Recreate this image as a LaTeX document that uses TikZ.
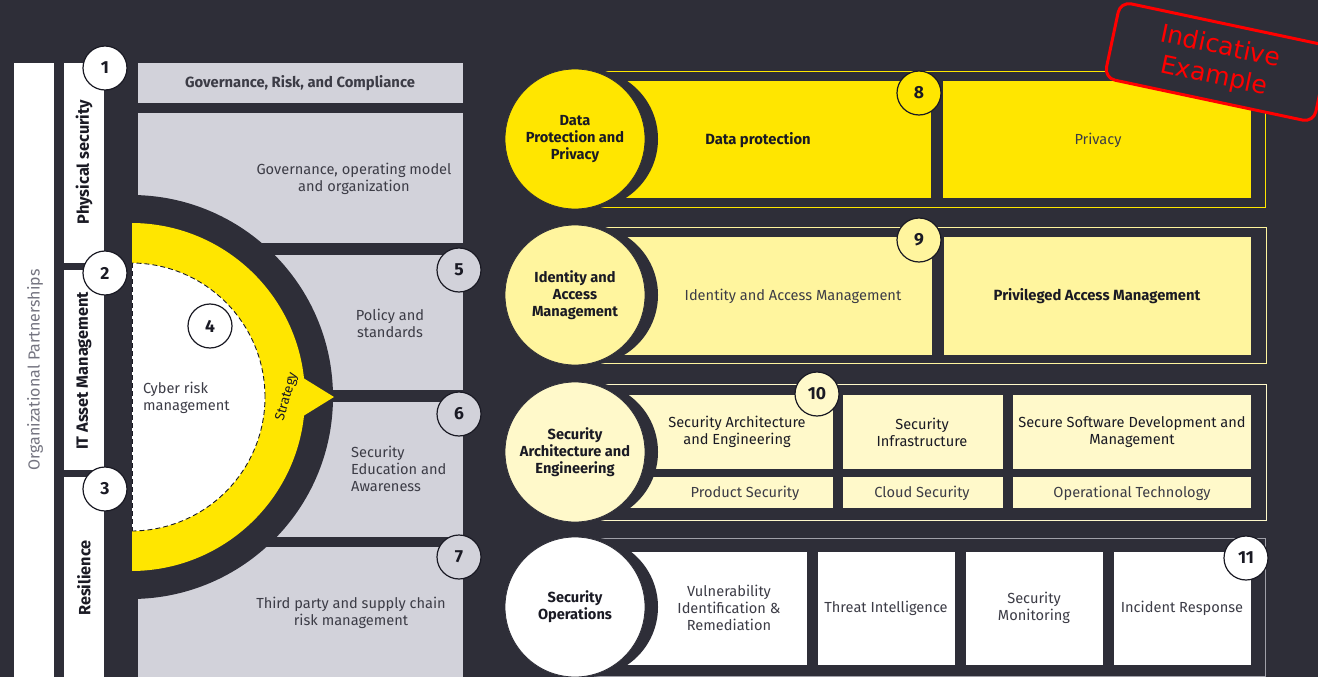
\documentclass[tikz,border=0pt]{standalone}
\usepackage{fontspec}
\setmainfont{Fira Sans}
\newfontfamily\stampfont{DejaVu Sans}
\definecolor{bg}{HTML}{2E2E38}
\definecolor{ink}{HTML}{1A1A24}
\definecolor{txt}{HTML}{3C3C46}
\definecolor{soft}{HTML}{747480}
\definecolor{panel}{HTML}{D2D2DA}
\definecolor{eyyellow}{HTML}{FFE600}
\definecolor{lightyellow}{HTML}{FFF59E}
\definecolor{paleyellow}{HTML}{FFF9CA}
\definecolor{framegray}{HTML}{A0A0A8}
\newcommand\fs[2]{\fontsize{#1}{#2}\selectfont}
\newcommand\bx[6]{\node[#6, inner sep=0pt, outer sep=0pt, minimum width={(#4-#2)*1pt}, minimum height={(#5-#3)*1pt}, anchor=north west] (#1) at (#2,#3) {};}
\tikzset{
  panelbox/.style={fill=panel},
  stripbox/.style={fill=white},
  num/.style={circle, draw=ink, line width=1.2pt, fill=white, minimum size=44pt, inner sep=0pt, font=\bfseries\fs{17.5}{20}, text=ink},
  big/.style={circle, minimum size=140pt, inner sep=0pt, align=center, font=\bfseries\fs{14.6}{17}, text=ink, draw=bg, line width=0.8pt},
  shade/.style={circle, fill=bg, minimum size=140pt, inner sep=0pt},
  lbl/.style={align=center, font=\fs{14.6}{17}, text=txt, inner sep=0pt},
  lblb/.style={align=center, font=\bfseries\fs{14.8}{17}, text=ink, inner sep=0pt},
  side/.style={rotate=90, font=\bfseries\fs{16.3}{19}, text=ink, inner sep=0pt},
}
\begin{document}
\begin{tikzpicture}[x=1pt,y=-1pt]
\clip (0,0) rectangle (1318,677);
\fill[bg] (0,0) rectangle (1318,677);

% left strips
\bx{org}{14}{63}{54}{677}{stripbox}
\bx{phys}{64}{63}{104}{263}{stripbox}
\bx{itam}{64}{270}{104}{470}{stripbox}
\bx{resi}{64}{477}{104}{677}{stripbox}
\node[rotate=90, font=\fs{16}{19}, text=soft, inner sep=0pt] (orgt) at (35,370) {Organizational Partnerships};
\node[side] (physt) at (84,162) {Physical security};
\node[side] (itamt) at (84,371) {IT Asset Management};
\node[side] (resit) at (84,578) {Resilience};

% grey panels
\bx{grc}{138}{63}{463}{103}{panelbox}
\bx{gov}{138}{113}{463}{243}{panelbox}
\bx{pol}{138}{255}{463}{390}{panelbox}
\bx{edu}{138}{402}{463}{537}{panelbox}
\bx{tpr}{138}{547}{463}{677}{panelbox}

% semicircle
\begin{scope}
\clip (132,150) rectangle (400,640);
\fill[bg] (131,397) circle[radius=202pt];
\fill[eyyellow] (131,397) circle[radius=174pt];
\fill[white] (131,397) circle[radius=134pt];
\draw[ink, line width=0.9pt, dash pattern=on 5pt off 3pt] (131,397) circle[radius=134pt];
\end{scope}
\fill[eyyellow] (300,376) -- (334,397) -- (300,418) -- cycle;
\draw[ink, line width=0.9pt, dash pattern=on 5pt off 3pt] (132,263) -- (132,531);
\node[align=left, anchor=west, font=\fs{14.6}{17}, text=txt, inner sep=0pt] (crm) at (143,398) {Cyber risk\\management};
\node[rotate=74, font=\fs{13.5}{15}, text=ink, inner sep=0pt] (strat) at (287,397) {Strategy};

% panel texts
\node[lblb, text=txt] (grct) at (300,83) {Governance, Risk, and Compliance};
\node[lbl] (govt) at (354,179) {Governance, operating model\\and organization};
\node[lbl] (polt) at (390,323) {Policy and\\standards};
\node[lbl, align=left, anchor=west] (edut) at (351,469) {Security\\Education and\\Awareness};
\node[lbl] (tprt) at (351,613) {Third party and supply chain\\risk management};

% numbered circles left
\node[num] (n1) at (105,68) {1};
\node[num] (n2) at (105,273) {2};
\node[num] (n3) at (105,489) {3};
\node[num] (n4) at (210,326) {4};
\node[num, fill=panel] (n5) at (459,270) {5};
\node[num, fill=panel] (n6) at (459,414) {6};
\node[num, fill=panel] (n7) at (459,557) {7};

% row 1 Data protection
\draw[eyyellow, line width=1pt, fill=bg] (590,72) rectangle (1265,207);
\bx{dp}{590}{81}{931}{198}{fill=eyyellow}
\bx{priv}{943}{81}{1251}{198}{fill=eyyellow}
\node[lblb] (dpt) at (758,140) {Data protection};
\node[lbl] (privt) at (1098,140) {Privacy};
\node[shade] (s1) at (588,139) {};
\node[big, fill=eyyellow] (c1) at (575,139) {Data\\Protection and\\Privacy};
\node[num, fill=eyyellow] (n8) at (919,93) {8};

% row 2 IAM
\draw[lightyellow, line width=1pt, fill=bg] (590,227) rectangle (1266,363);
\bx{iam}{590}{237}{932}{355}{fill=lightyellow}
\bx{pam}{944}{237}{1251}{355}{fill=lightyellow}
\node[lbl] (iamt) at (793,296) {Identity and Access Management};
\node[lblb] (pamt) at (1097,296) {Privileged Access Management};
\node[shade] (s2) at (588,295) {};
\node[big, fill=lightyellow] (c2) at (575,295) {Identity and\\Access\\Management};
\node[num, fill=lightyellow] (n9) at (919,240) {9};

% row 3 SAE
\draw[paleyellow, line width=1pt, fill=bg] (590,384) rectangle (1266,520);
\bx{sae}{600}{395}{833}{469}{fill=paleyellow}
\bx{sinf}{843}{395}{1003}{469}{fill=paleyellow}
\bx{ssd}{1013}{395}{1251}{469}{fill=paleyellow}
\bx{prod}{600}{477}{833}{508}{fill=paleyellow}
\bx{cloud}{843}{477}{1003}{508}{fill=paleyellow}
\bx{ot}{1013}{477}{1251}{508}{fill=paleyellow}
\node[lbl, text=ink] (saet) at (737,432) {Security Architecture\\and Engineering};
\node[lbl, text=ink] (sinft) at (922,432) {Security\\Infrastructure};
\node[lbl, text=ink] (ssdt) at (1132,432) {Secure Software Development and\\Management};
\node[lbl] (prodt) at (745,493) {Product Security};
\node[lbl] (cloudt) at (922,493) {Cloud Security};
\node[lbl] (ott) at (1132,493) {Operational Technology};
\node[shade] (s3) at (588,452) {};
\node[big, fill=paleyellow] (c3) at (575,452) {Security\\Architecture and\\Engineering};
\node[num, fill=paleyellow] (n10) at (817,394) {10};

% row 4 SecOps
\draw[framegray, line width=1pt, fill=bg] (590,538) rectangle (1265,676);
\bx{vim}{600}{552}{807}{665}{fill=white}
\bx{ti}{818}{552}{955}{665}{fill=white}
\bx{sm}{966}{552}{1103}{665}{fill=white}
\bx{ir}{1114}{552}{1251}{665}{fill=white}
\node[lbl] (vimt) at (729,608) {Vulnerability\\Identification \&\\Remediation};
\node[lbl] (tit) at (886,608) {Threat Intelligence};
\node[lbl] (smt) at (1034,608) {Security\\Monitoring};
\node[lbl] (irt) at (1182,608) {Incident Response};
\node[shade] (s4) at (588,607) {};
\node[big, fill=white] (c4) at (575,607) {Security\\Operations};
\node[num] (n11) at (1246,558) {11};

% stamp
\node[draw=red, fill=bg, line width=3pt, rounded corners=11pt, rotate=-12, minimum width=214pt, minimum height=78pt, text=red, align=center, font=\stampfont\fs{25}{30}] (stamp) at (1217,62) {Indicative\\Example};
\end{tikzpicture}
\end{document}
